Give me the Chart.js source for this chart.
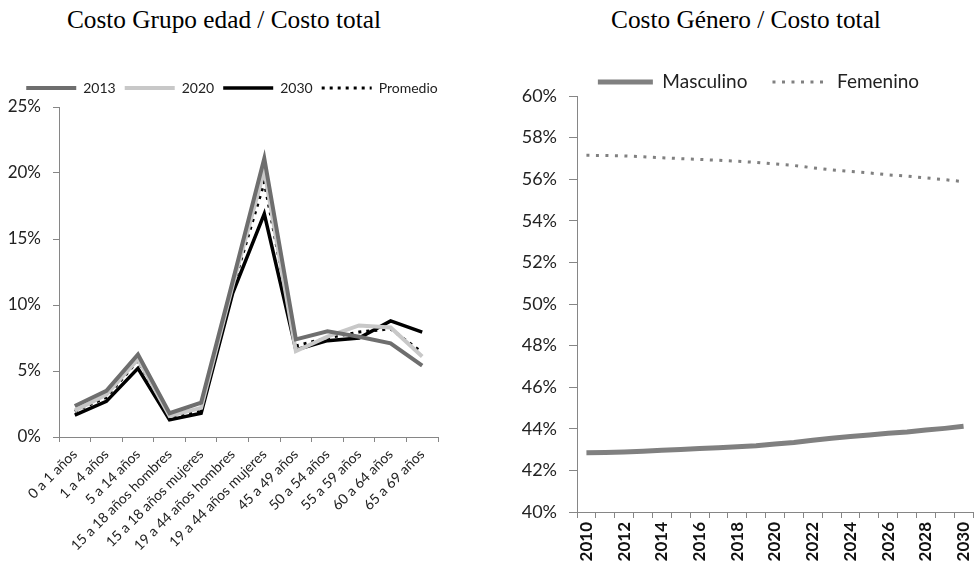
<!DOCTYPE html>
<html>
<head>
<meta charset="utf-8">
<script src="https://cdn.jsdelivr.net/npm/chart.js@4/dist/chart.umd.min.js"></script>
<style>
  body { margin: 0; background: #fff; width: 976px; height: 566px; position: relative; overflow: hidden; }
  .titulo { position: absolute; top: 7px; font-family: "Liberation Serif", "Times New Roman", serif; font-size: 25.3px; line-height: 25px; color: #000; text-align: center; white-space: nowrap; }
  #wrapEdad { position: absolute; left: 0; top: 62px; width: 460px; height: 504px; }
  #wrapGenero { position: absolute; left: 500px; top: 60px; width: 476px; height: 506px; }
</style>
</head>
<body>
<div class="titulo" style="left:24px;width:400px;">Costo Grupo edad / Costo total</div>
<div class="titulo" style="left:546px;width:400px;">Costo Género / Costo total</div>
<div id="wrapEdad"><canvas id="chartEdad"></canvas></div>
<div id="wrapGenero"><canvas id="chartGenero"></canvas></div>
<script>
// datos grupo de edad (% del costo total)
const gruposEdad = ['0 a 1 años', '1 a 4 años', '5 a 14 años', '15 a 18 años hombres', '15 a 18 años mujeres',
  '19 a 44 años hombres', '19 a 44 años mujeres', '45 a 49 años', '50 a 54 años', '55 a 59 años', '60 a 64 años', '65 a 69 años'];
const costo2013 = [2.35, 3.5, 6.25, 1.8, 2.6, 11.8, 21.1, 7.4, 8.0, 7.6, 7.1, 5.4];
const costo2020 = [2.0, 3.2, 5.9, 1.6, 2.2, 11.5, 20.2, 6.5, 7.6, 8.45, 8.3, 6.1];
const costo2030 = [1.65, 2.7, 5.2, 1.3, 1.8, 10.9, 16.9, 6.6, 7.3, 7.5, 8.8, 7.95];
const costoPromedio = [1.95, 3.0, 5.8, 1.5, 2.0, 11.3, 19.3, 6.9, 7.5, 7.95, 8.2, 6.4];
const ticksEdad = [0, 5, 10, 15, 20, 25];

// datos genero (% del costo total)
const anios = ['2010', '2011', '2012', '2013', '2014', '2015', '2016', '2017', '2018', '2019', '2020',
  '2021', '2022', '2023', '2024', '2025', '2026', '2027', '2028', '2029', '2030'];
const masculino = [42.85, 42.86, 42.88, 42.92, 42.97, 43.01, 43.05, 43.09, 43.14, 43.19, 43.27,
  43.34, 43.45, 43.55, 43.63, 43.70, 43.79, 43.85, 43.94, 44.02, 44.12];
const femenino = [57.15, 57.14, 57.12, 57.08, 57.03, 56.99, 56.95, 56.91, 56.86, 56.81, 56.73,
  56.66, 56.55, 56.45, 56.37, 56.30, 56.21, 56.15, 56.06, 55.98, 55.88];
const ticksGenero = [40, 42, 44, 46, 48, 50, 52, 54, 56, 58, 60];

const fuente = 'Lato, "Open Sans", sans-serif';
const gris = '#868686';

function linea(label, data, color, ancho, dash) {
  return {
    label: label,
    data: data,
    borderColor: color,
    backgroundColor: color,
    borderWidth: ancho,
    borderDash: dash || [],
    pointRadius: 0,
    pointStyle: 'line',
    tension: 0,
    fill: false
  };
}

// la leyenda usa el estilo de punto; se le copia el trazo de la serie
function etiquetas(chart) {
  return Chart.defaults.plugins.legend.labels.generateLabels(chart).map(l => {
    const ds = chart.data.datasets[l.datasetIndex];
    l.lineDash = ds.borderDash;
    l.lineWidth = ds.borderWidth;
    l.strokeStyle = ds.borderColor;
    return l;
  });
}

// corre la leyenda para que quede donde esta en la imagen
function moverLeyenda(dx, dy) {
  return {
    id: 'moverLeyenda',
    afterLayout(chart) {
      const l = chart.legend;
      l.left += dx; l.right += dx; l.top += dy; l.bottom += dy;
    }
  };
}

new Chart(document.getElementById('chartEdad'), {
  type: 'line',
  data: {
    labels: gruposEdad,
    datasets: [
      linea('2013', costo2013, '#6e6e6e', 4),
      linea('2020', costo2020, '#c8c8c8', 4),
      linea('2030', costo2030, '#000000', 3.5),
      linea('Promedio', costoPromedio, '#000000', 3, [3, 5])
    ]
  },
  options: {
    responsive: true,
    maintainAspectRatio: false,
    animation: false,
    layout: { padding: { top: 12, right: 22, left: 0, bottom: 0 } },
    plugins: {
      tooltip: { enabled: false },
      legend: {
        labels: {
          usePointStyle: true,
          pointStyleWidth: 50,
          padding: 9,
          color: '#222',
          font: { family: fuente, size: 14 },
          generateLabels: etiquetas
        }
      }
    },
    scales: {
      x: {
        offset: true,
        grid: { offset: true, drawOnChartArea: false, tickLength: 5, color: gris },
        border: { color: gris },
        ticks: { autoSkip: false, minRotation: 45, maxRotation: 45, padding: 4, color: '#222', font: { family: fuente, size: 14 } },
        afterFit: s => { s.height = 129; }
      },
      y: {
        min: 0,
        max: 25,
        afterBuildTicks: s => { s.ticks = ticksEdad.map(v => ({ value: v })); },
        grid: { drawOnChartArea: false, tickLength: 6, color: gris },
        border: { color: gris },
        ticks: { padding: 12, color: '#222', font: { family: fuente, size: 17 }, callback: v => v + '%' },
        afterFit: s => { s.width = 59; }
      }
    }
  },
  plugins: [moverLeyenda(13, -2)]
});

new Chart(document.getElementById('chartGenero'), {
  type: 'line',
  data: {
    labels: anios,
    datasets: [
      linea('Masculino', masculino, '#808080', 5),
      linea('Femenino', femenino, '#808080', 3, [3, 6.5])
    ]
  },
  options: {
    responsive: true,
    maintainAspectRatio: false,
    animation: false,
    layout: { padding: { top: -18, right: 3, left: 0, bottom: 0 } },
    plugins: {
      tooltip: { enabled: false },
      legend: {
        labels: {
          usePointStyle: true,
          pointStyleWidth: 55,
          padding: 25,
          color: '#222',
          font: { family: fuente, size: 19 },
          generateLabels: etiquetas
        }
      }
    },
    scales: {
      x: {
        offset: true,
        grid: { offset: true, drawOnChartArea: false, tickLength: 6, color: gris },
        border: { color: gris },
        ticks: {
          autoSkip: false, minRotation: 90, maxRotation: 90, padding: 4, color: '#111',
          font: { family: fuente, size: 17, weight: 'bold' },
          callback: function (v, i) { return i % 2 === 0 ? this.getLabelForValue(v) : ''; }
        },
        afterFit: s => { s.height = 54; s.paddingLeft = 0; s.paddingRight = 0; }
      },
      y: {
        min: 40,
        max: 60,
        afterBuildTicks: s => { s.ticks = ticksGenero.map(v => ({ value: v })); },
        grid: { drawOnChartArea: false, tickLength: 8, color: gris },
        border: { color: gris },
        ticks: { padding: 12, color: '#222', font: { family: fuente, size: 18 }, callback: v => v + '%' },
        afterFit: s => { s.width = 77; }
      }
    }
  },
  plugins: [moverLeyenda(22, 5.5)]
});
</script>
</body>
</html>
